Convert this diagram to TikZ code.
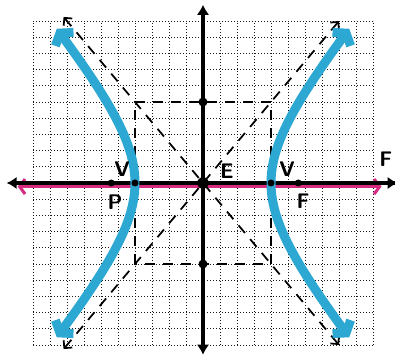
\documentclass[tikz,border=0pt]{standalone}
\usetikzlibrary{arrows.meta}
\definecolor{hblue}{RGB}{45,168,210}
\definecolor{hpink}{RGB}{214,44,128}
\tikzset{
  gridline/.style={black!90, line width=0.38mm, dash pattern=on 0.5mm off 0.7mm},
  axisline/.style={black, line width=1.3mm},
  pinkline/.style={hpink, line width=1.2mm, line cap=round},
  asym/.style={black, line width=0.7mm, dash pattern=on 4mm off 3.2mm},
  hyp/.style={hblue, line width=3.6mm},
  bigdot/.style={circle, fill=black, inner sep=0pt, minimum size=4.6mm},
  middot/.style={circle, fill=black, inner sep=0pt, minimum size=3.6mm},
  smalldot/.style={circle, fill=black, inner sep=0pt, minimum size=2.8mm},
  lab/.style={font=\sffamily\bfseries\fontsize{24}{24}\selectfont, inner sep=0pt}
}
\begin{document}
\begin{tikzpicture}
\fill[white] (0,0) rectangle (158mm,143.2mm);
\path[use as bounding box] (0,0) rectangle (158mm,143.2mm);
\begin{scope}[shift={(81.2mm,70mm)}, x=6.8mm, y=6.48mm]
  % grid
  \foreach \i in {-10,...,10} {
    \draw[gridline] (\i,-10) -- (\i,10);
    \draw[gridline] (-10,\i) -- (10,\i);
  }
  % pink transverse highlight
  \coordinate (pl) at (-10.9,-0.22);
  \coordinate (pr) at (10.5,-0.22);
  \draw[pinkline, {Straight Barb[length=2.2mm,width=6mm]}-{Straight Barb[length=2.2mm,width=6mm]}] (pl) -- (pr);
  % axes
  \coordinate (xl) at (-11.55,0);
  \coordinate (xr) at (11.45,0);
  \coordinate (yt) at (0,11.0);
  \coordinate (yb) at (0,-10.6);
  \draw[axisline, -{Latex[length=4mm,width=5mm]}] (xr) -- (xl);
  \draw[axisline, -{Latex[length=4mm,width=5mm]}] (-0.5,0) -- (xr);
  \draw[axisline, -{Latex[length=4mm,width=5mm]}] (0,0) -- (yt);
  \draw[axisline, -{Latex[length=4mm,width=5mm]}] (0,0) -- (yb);
  % central box
  \coordinate (b1) at (-4,-5);
  \coordinate (b2) at (4,5);
  \draw[asym] (b1) rectangle (b2);
  % asymptotes
  \coordinate (a1) at (-8.2,10.25);
  \coordinate (a2) at (8.0,-10.0);
  \coordinate (a3) at (8.0,10.0);
  \coordinate (a4) at (-8.2,-10.25);
  \draw[asym, {Straight Barb[length=2.2mm,width=4.5mm]}-{Straight Barb[length=2.2mm,width=4.5mm]}] (a1) -- (a2);
  \draw[asym, {Straight Barb[length=2.2mm,width=4.5mm]}-{Straight Barb[length=2.2mm,width=4.5mm]}] (a4) -- (a3);
  % hyperbola branches
  \draw[hyp, {Straight Barb[length=3mm,width=9mm]}-{Straight Barb[length=3mm,width=9mm]}]
    plot[domain=-1.4:1.4, samples=60, smooth] ({4*cosh(\x)},{5*sinh(\x)});
  \draw[hyp, {Straight Barb[length=3mm,width=9mm]}-{Straight Barb[length=3mm,width=9mm]}]
    plot[domain=-1.4:1.4, samples=60, smooth] ({-4*cosh(\x)},{5*sinh(\x)});
  % points
  \node[bigdot] (C) at (0,0) {};
  \node[middot] (T) at (0,5) {};
  \node[middot] (B) at (0,-5) {};
  \node[smalldot] (VL) at (-4,0) {};
  \node[smalldot] (VR) at (4,0) {};
  \node[smalldot] (FL) at (-5.4,0) {};
  \node[smalldot] (FR) at (5.6,0) {};
  % labels
  \node[lab] (lv1) at (-4.76,0.85) {V};
  \node[lab] (lp) at (-5.18,-1.2) {P};
  \node[lab] (le) at (1.41,0.72) {E};
  \node[lab] (lv2) at (4.94,0.85) {V};
  \node[lab] (lf) at (5.88,-1.1) {F};
  \node[lab] (lf2) at (10.75,1.45) {F};
\end{scope}
\end{tikzpicture}
\end{document}
